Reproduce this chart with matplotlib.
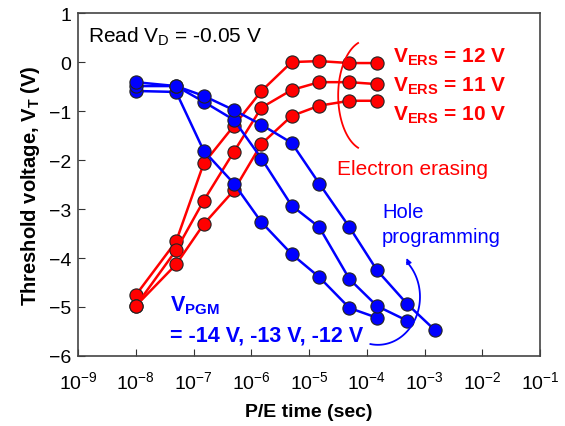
import numpy as np
import matplotlib
matplotlib.use("Agg")
from matplotlib import pyplot as plt

plt.rcParams['font.family'] = ['Liberation Sans', 'DejaVu Sans']
plt.rcParams['mathtext.fontset'] = 'custom'
plt.rcParams['mathtext.rm'] = 'Liberation Sans'
plt.rcParams['mathtext.bf'] = 'Liberation Sans:bold'

# erase (red) curves: time (s) and V_T (V)
t_ers = [1e-8, 5e-8, 1.5e-7, 5e-7, 1.5e-6, 5e-6, 1.5e-5, 5e-5, 1.5e-4]
vt_ers12 = [-4.76, -3.66, -2.07, -1.30, -0.59, 0.00, 0.02, -0.02, -0.02]
vt_ers11 = [-4.98, -3.84, -2.83, -1.83, -0.93, -0.57, -0.41, -0.41, -0.45]
vt_ers10 = [-4.98, -4.13, -3.31, -2.62, -1.67, -1.10, -0.89, -0.79, -0.79]

# program (blue) curves
t_pgm14 = [1e-8, 5e-8, 1.5e-7, 5e-7, 1.5e-6, 5e-6, 1.5e-5, 5e-5, 1.5e-4]
vt_pgm14 = [-0.59, -0.61, -1.81, -2.48, -3.27, -3.92, -4.39, -5.02, -5.22]
t_pgm13 = [1e-8, 5e-8, 1.5e-7, 5e-7, 1.5e-6, 5e-6, 1.5e-5, 5e-5, 1.5e-4, 5e-4]
vt_pgm13 = [-0.49, -0.49, -0.81, -1.18, -1.97, -2.93, -3.37, -4.43, -4.98, -5.28]
t_pgm12 = [1e-8, 5e-8, 1.5e-7, 5e-7, 1.5e-6, 5e-6, 1.5e-5, 5e-5, 1.5e-4, 5e-4, 1.5e-3]
vt_pgm12 = [-0.41, -0.49, -0.69, -0.98, -1.28, -1.65, -2.48, -3.37, -4.25, -4.94, -5.47]

ers_labels = ['12', '11', '10']

red = '#ff0000'
blue = '#0000ff'

fig = plt.figure(figsize=(5.65, 4.27), dpi=100)
ax = fig.add_axes([0.138, 0.164, 0.818, 0.803])

mk = dict(marker='o', markersize=9.5, markeredgecolor='#222222', markeredgewidth=0.8, linewidth=1.8)
for v in (vt_ers12, vt_ers11, vt_ers10):
    ax.plot(t_ers, v, color=red, markerfacecolor=red, **mk)
for t, v in ((t_pgm14, vt_pgm14), (t_pgm13, vt_pgm13), (t_pgm12, vt_pgm12)):
    ax.plot(t, v, color=blue, markerfacecolor=blue, **mk)

ax.set_xscale('log')
ax.set_xlim(1e-9, 1e-1)
ax.set_ylim(-6, 1)
ax.set_xticks([10.0 ** k for k in range(-9, 0)])
ax.set_yticks(range(-6, 2))
ax.tick_params(which='both', direction='in', labelsize=14, color='#333333')
ax.tick_params(which='major', length=5)
ax.tick_params(which='minor', length=3)
ax.tick_params(axis='x', pad=10)
ax.tick_params(axis='y', pad=5)
for s in ax.spines.values():
    s.set_color('#444444')
    s.set_linewidth(1.2)

ax.set_xlabel('P/E time (sec)', fontsize=14, fontweight='bold', labelpad=8)
ax.set_ylabel(r'Threshold voltage, V$_\mathbf{T}$ (V)', fontsize=14.5, fontweight='bold', labelpad=5)

ax.text(0.022, 0.918, r'Read V$_\mathrm{D}$ = -0.05 V', transform=ax.transAxes,
        fontsize=15, va='baseline', ha='left')

for i, lab in enumerate(ers_labels):
    ax.text(0.682, 0.860 - i * 0.085, r'V$_\mathbf{ERS}$ = ' + lab + ' V', transform=ax.transAxes,
            fontsize=15, fontweight='bold', color=red, va='baseline', ha='left')
ax.text(0.561, 0.532, 'Electron erasing', transform=ax.transAxes,
        fontsize=15, color=red, va='baseline', ha='left')
ax.text(0.658, 0.406, 'Hole', transform=ax.transAxes,
        fontsize=14.5, color=blue, va='baseline', ha='left')
ax.text(0.658, 0.333, 'programming', transform=ax.transAxes,
        fontsize=14.5, color=blue, va='baseline', ha='left')
ax.text(0.199, 0.132, r'V$_\mathbf{PGM}$', transform=ax.transAxes,
        fontsize=15.5, fontweight='bold', color=blue, va='baseline', ha='left')
ax.text(0.199, 0.044, '= -14 V, -13 V, -12 V', transform=ax.transAxes,
        fontsize=15.5, fontweight='bold', color=blue, va='baseline', ha='left')

# decorative arcs (axes fraction)
th = np.linspace(-1.25, 1.25, 60)
ax.plot(0.626 - 0.063 * np.cos(th), 0.76 + 0.161 * np.sin(th), color=red, lw=1.3,
        transform=ax.transAxes)
th = np.linspace(-1.75, 0.8, 60)
xb = 0.649 + 0.091 * np.cos(th)
yb = 0.1725 + 0.140 * np.sin(th)
ax.plot(xb, yb, color=blue, lw=1.3, transform=ax.transAxes)
ax.annotate('', xy=(xb[-1] - 0.004, yb[-1] + 0.02), xytext=(xb[-3], yb[-3]),
            xycoords='axes fraction', textcoords='axes fraction',
            arrowprops=dict(arrowstyle='-|>', color=blue, lw=1.0, mutation_scale=8))

fig.savefig('out.png', dpi=100)
